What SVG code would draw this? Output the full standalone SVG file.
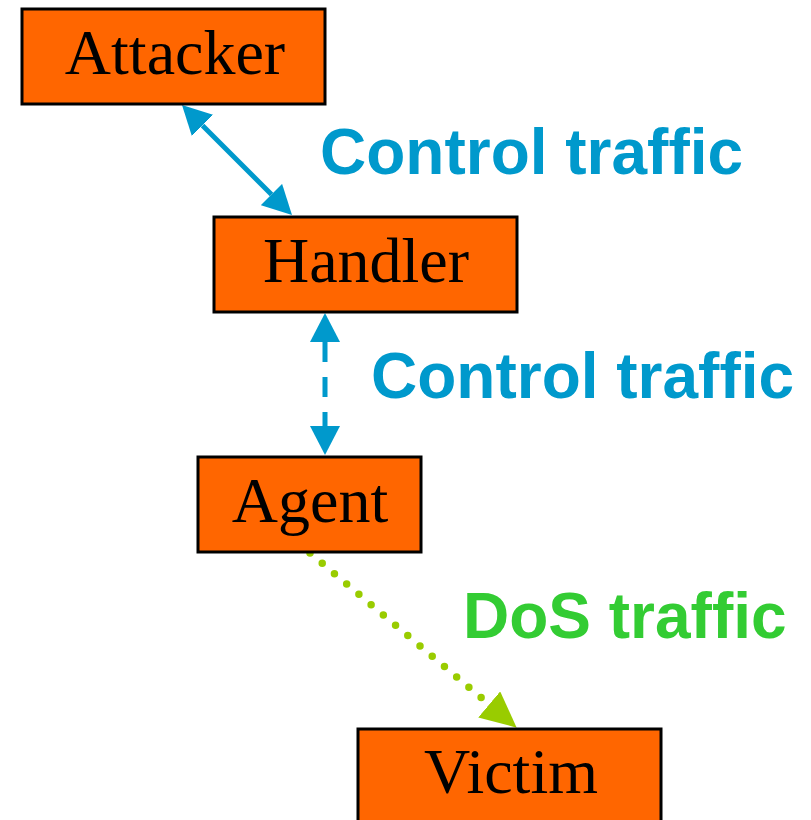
<svg xmlns="http://www.w3.org/2000/svg" width="811" height="820" viewBox="0 0 811 820">
  <style>
    .box { fill: #FF6600; stroke: #000000; stroke-width: 3; }
    .name { font-family: "Liberation Serif", "Times New Roman", serif; font-size: 64px; fill: #000000; text-anchor: middle; }
    .lbl { font-family: "Liberation Sans", Arial, sans-serif; font-size: 64px; font-weight: bold; }
    .ctl { fill: #0099CC; }
    .dos { fill: #33CC33; }
    .blue { stroke: #0099CC; stroke-width: 5; fill: none; }
    .green { stroke: #99CC00; stroke-width: 7.5; fill: none; stroke-linecap: round; stroke-dasharray: 0 16; }
  </style>
  <defs>
    <marker id="bh" markerUnits="userSpaceOnUse" viewBox="0 0 29 30" refX="0" refY="15" markerWidth="29" markerHeight="30" orient="auto-start-reverse">
      <path d="M0,0 L29,15 L0,30 Z" fill="#0099CC"/>
    </marker>
    <marker id="gh" markerUnits="userSpaceOnUse" viewBox="0 0 36 34" refX="0" refY="17" markerWidth="36" markerHeight="34" orient="auto">
      <path d="M0,0 L36,17 L0,34 Z" fill="#99CC00"/>
    </marker>
  </defs>

  <g id="connectors">
    <line class="blue" x1="202.5" y1="125.5" x2="271.5" y2="194.5" marker-start="url(#bh)" marker-end="url(#bh)"/>
    <line class="blue" x1="325" y1="342" x2="325" y2="426" stroke-dasharray="20 15" marker-start="url(#bh)" marker-end="url(#bh)"/>
    <line class="green" x1="310" y1="553" x2="489.2" y2="704.4" marker-end="url(#gh)"/>
  </g>

  <g id="attacker">
    <rect class="box" x="22" y="9" width="303" height="95"/>
    <text class="name" x="175" y="74">Attacker</text>
  </g>
  <g id="handler">
    <rect class="box" x="214" y="217" width="303" height="95"/>
    <text class="name" x="366" y="282">Handler</text>
  </g>
  <g id="agent">
    <rect class="box" x="198" y="457" width="223" height="95"/>
    <text class="name" x="310" y="522">Agent</text>
  </g>
  <g id="victim">
    <rect class="box" x="358" y="729" width="303" height="100"/>
    <text class="name" x="511" y="793">Victim</text>
  </g>

  <g id="labels">
    <text class="lbl ctl" x="320" y="174">Control traffic</text>
    <text class="lbl ctl" x="371" y="398">Control traffic</text>
    <text class="lbl dos" x="463" y="638">DoS traffic</text>
  </g>
</svg>
